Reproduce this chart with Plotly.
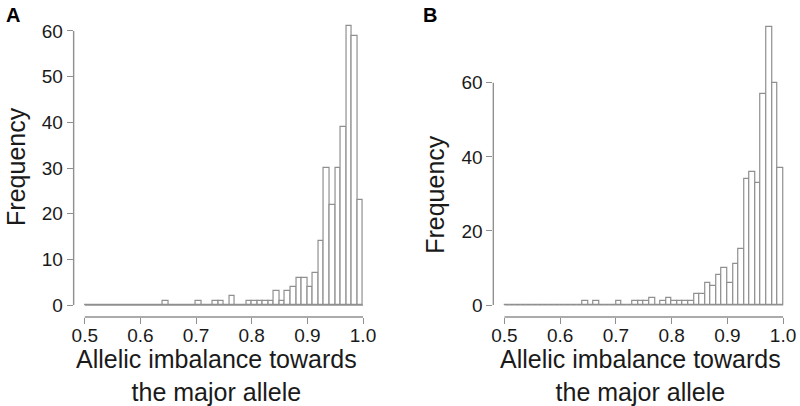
import plotly.graph_objects as go

# ---- data ----
bin_width = 0.01
bin_left = [round(0.50 + bin_width * i, 2) for i in range(50)]  # 0.50 ... 0.99

counts_A = [0]*14 + [1, 0, 0, 0, 0, 0, 1, 0, 0, 1, 1, 0, 2, 0, 0,
                     1, 1, 1, 1, 1, 3, 1, 3, 4, 6, 6, 4, 7, 14,
                     30, 22, 30, 39, 61, 59, 23]
counts_B = [0]*14 + [1, 0, 1, 0, 0, 0, 1, 0, 0, 1, 1, 1, 2, 0, 1,
                     2, 1, 1, 1, 1, 3, 3, 6, 5, 8, 10, 6, 11, 15,
                     34, 36, 33, 57, 75, 60, 37]

x_ticks = [0.5, 0.6, 0.7, 0.8, 0.9, 1.0]
x_ticklabels = ["0.5", "0.6", "0.7", "0.8", "0.9", "1.0"]
y_ticks_A = [0, 10, 20, 30, 40, 50, 60]
y_ticks_B = [0, 20, 40, 60]

x_title = "Allelic imbalance towards<br>the major allele"
y_title = "Frequency"

# ---- styling ----
W, H = 800, 406
GRAY = "#8f8f8f"
TXT = "#1a1a1a"
FONT = "Liberation Sans, Arial, Helvetica, sans-serif"

centers = [b + bin_width / 2 for b in bin_left]

fig = go.Figure()
for cnt, xa, ya in [(counts_A, "x", "y"), (counts_B, "x2", "y2")]:
    fig.add_trace(go.Bar(
        x=centers, y=cnt, width=[bin_width]*len(centers),
        marker=dict(color="white", line=dict(color=GRAY, width=1.2)),
        xaxis=xa, yaxis=ya, hoverinfo="skip", showlegend=False))

def px_x(p):
    return p / W

def px_y(p):
    return (H - p) / H

ydom = [px_y(317), px_y(20)]

common_x = dict(range=[0.48, 1.02], tickvals=x_ticks, ticktext=x_ticklabels,
                ticks="outside", ticklen=6, tickwidth=1.4, tickcolor=GRAY,
                ticklabelstandoff=-5,
                showline=False, showgrid=False, zeroline=False,
                tickfont=dict(size=19, color=TXT, family=FONT), fixedrange=True)
common_y = dict(ticks="outside", ticklen=6, tickwidth=1.4, tickcolor=GRAY,
                showline=False, showgrid=False, zeroline=False,
                tickfont=dict(size=19, color=TXT, family=FONT), fixedrange=True)

fig.update_layout(
    width=W, height=H, margin=dict(l=0, r=0, t=0, b=0),
    paper_bgcolor="white", plot_bgcolor="white",
    bargap=0, hovermode=False,
    xaxis=dict(domain=[px_x(72), px_x(374)], anchor="y", **common_x),
    yaxis=dict(domain=ydom, anchor="x", range=[-2.6, 62.4], tickvals=y_ticks_A, **common_y),
    xaxis2=dict(domain=[px_x(493.8), px_x(796.2)], anchor="y2", **common_x),
    yaxis2=dict(domain=ydom, anchor="x2", range=[-3.24, 76.95], tickvals=y_ticks_B, **common_y),
)

shapes = []
for xa, ya, yt in [("x", "y", y_ticks_A), ("x2", "y2", y_ticks_B)]:
    # y axis line between first and last tick
    shapes.append(dict(type="line", xref=f"{xa} domain", yref=ya, x0=0, x1=0,
                       y0=yt[0], y1=yt[-1], line=dict(color=GRAY, width=1.4)))
    # x axis line between first and last tick
    shapes.append(dict(type="line", xref=xa, yref=f"{ya} domain", x0=x_ticks[0], x1=x_ticks[-1],
                       y0=0, y1=0, line=dict(color=GRAY, width=1.4)))
    # baseline of histogram (zero-height bins)
    shapes.append(dict(type="line", xref=xa, yref=ya, x0=bin_left[0], x1=bin_left[-1] + bin_width,
                       y0=0, y1=0, line=dict(color=GRAY, width=1.2), layer="below"))
fig.update_layout(shapes=shapes)

ann = []
for label, lx, xc in [("A", 11, 216), ("B", 430, 642)]:
    ann.append(dict(text=f"<b>{label}</b>", x=px_x(lx), y=px_y(15), xref="paper", yref="paper",
                    showarrow=False, xanchor="center", yanchor="middle",
                    font=dict(size=20, color="black", family=FONT)))
    ann.append(dict(text=x_title, x=px_x(xc), y=px_y(375), xref="paper", yref="paper",
                    showarrow=False, xanchor="center", yanchor="middle",
                    font=dict(size=25, color=TXT, family=FONT)))
for fx, fy in [(14, 166), (435, 194)]:
    ann.append(dict(text=y_title, x=px_x(fx), y=px_y(fy), xref="paper", yref="paper",
                    showarrow=False, xanchor="center", yanchor="middle", textangle=-90,
                    font=dict(size=25, color=TXT, family=FONT)))
fig.update_layout(annotations=ann)

fig.write_html("out.html", config={"displayModeBar": False},
               post_script="document.body.style.margin='0';document.body.style.padding='0';")
